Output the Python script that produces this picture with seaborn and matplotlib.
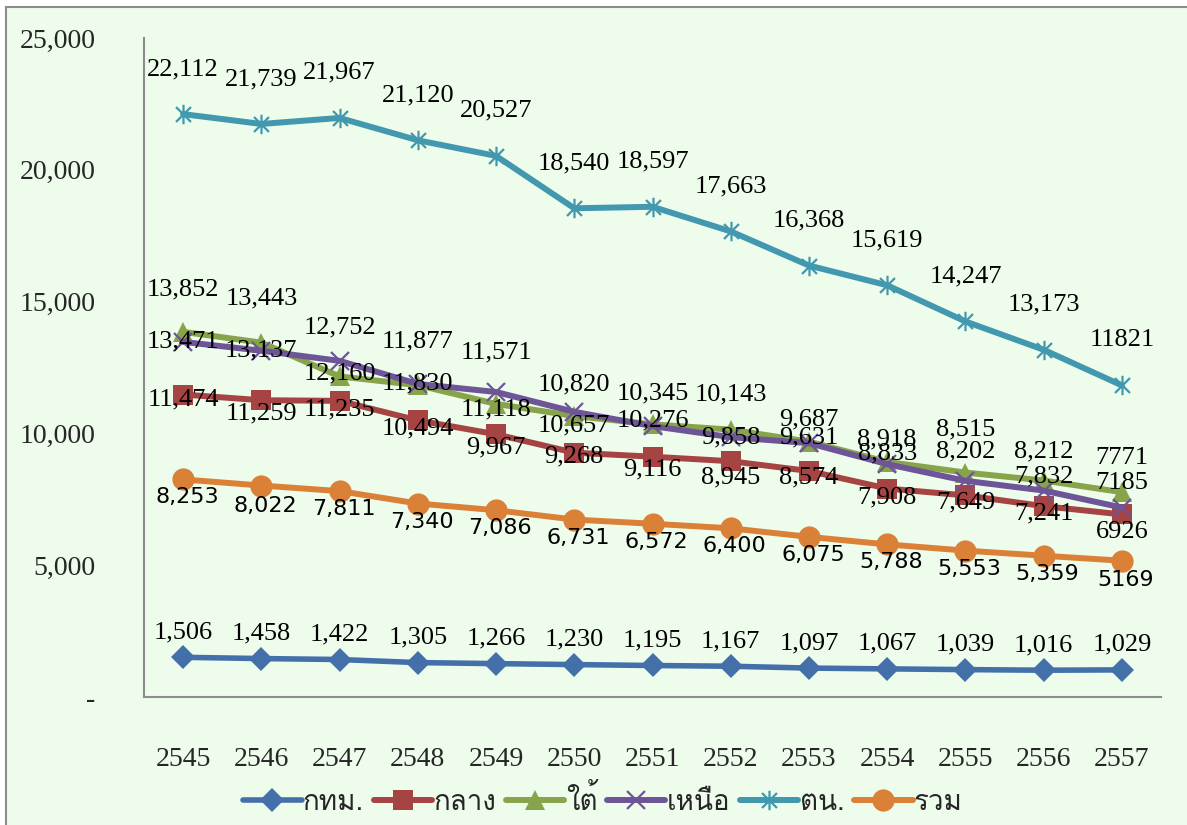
import matplotlib
matplotlib.use("Agg")
import matplotlib.pyplot as plt
import seaborn as sns
import pandas as pd
from matplotlib import font_manager
from matplotlib.ft2font import FT2Font
from matplotlib.path import Path
from matplotlib.patches import Rectangle

# ---------------- data ----------------
years = ["2545", "2546", "2547", "2548", "2549", "2550", "2551",
         "2552", "2553", "2554", "2555", "2556", "2557"]
bkk = [1506, 1458, 1422, 1305, 1266, 1230, 1195, 1167, 1097, 1067, 1039, 1016, 1029]
central = [11474, 11259, 11235, 10494, 9967, 9268, 9116, 8945, 8574, 7908, 7649, 7241, 6926]
south = [13852, 13443, 12160, 11830, 11118, 10657, 10345, 10143, 9687, 8918, 8515, 8212, 7771]
north = [13471, 13137, 12752, 11877, 11571, 10820, 10276, 9858, 9631, 8833, 8202, 7832, 7185]
northeast = [22112, 21739, 21967, 21120, 20527, 18540, 18597, 17663, 16368, 15619, 14247, 13173, 11821]
total = [8253, 8022, 7811, 7340, 7086, 6731, 6572, 6400, 6075, 5788, 5553, 5359, 5169]
series_names = ["กทม.", "กลาง", "ใต้", "เหนือ", "ตน.", "รวม"]
ytick_vals = [0, 5000, 10000, 15000, 20000, 25000]
ytick_labels = ["-", "5,000", "10,000", "15,000", "20,000", "25,000"]

def fmt(v, last):
    # last points in the source are printed without thousands separator
    return str(v) if last else f"{v:,}"

label_plain_last = {"กทม.": False, "กลาง": True, "ใต้": True, "เหนือ": True, "ตน.": True, "รวม": True}

# ---------------- style / layout ----------------
sns.set_theme(style="white")

thai_font = None
preferred = []
for f in font_manager.fontManager.ttflist:
    try:
        cm = FT2Font(f.fname).get_charmap()
    except Exception:
        continue
    if 0x0E01 in cm and 0x0E43 in cm and 0x0E49 in cm:
        preferred.append(f.name)
for cand in preferred:
    thai_font = cand
    break
serif = "Liberation Serif"
plt.rcParams["font.family"] = [serif, "DejaVu Sans"]

colors = {"กทม.": "#4470AA", "กลาง": "#A64443", "ใต้": "#87A44B",
          "เหนือ": "#6E5597", "ตน.": "#4198AF", "รวม": "#DB8137"}

star = Path([(-1, -1), (1, 1), (-1, 1), (1, -1), (0, -1.3), (0, 1.3)],
            [Path.MOVETO, Path.LINETO, Path.MOVETO, Path.LINETO, Path.MOVETO, Path.LINETO])

styles = {
    "กทม.": dict(marker="D", markersize=12, lw=4.0),
    "กลาง": dict(marker="s", markersize=14, lw=4.3),
    "ใต้": dict(marker="^", markersize=14, lw=4.3),
    "เหนือ": dict(marker="x", markersize=13, lw=4.3, mew=1.6),
    "ตน.": dict(marker=star, markersize=14, lw=4.3, mew=1.6),
    "รวม": dict(marker="o", markersize=16, lw=4.3),
}

# label vertical offsets in pixels (positive = above), per point
dy = {
    "กทม.": [25] * 13,
    "กลาง": [-5, -13, -9, -8, -13, -4, -13, -16, -6, -9, -7, -7, -18],
    "ใต้": [42, 44, 3, 2, -6, -9, 31, 35, 22, 22, 43, 29, 34],
    "เหนือ": [0, 0, 33, 42, 40, 27, 6, 0, 6, 11, 29, 14, 25],
    "ตน.": [45] * 13,
    "รวม": [-18, -20, -18, -18, -18, -18, -18, -18, -18, -18, -18, -18, -19],
}

values = {"กทม.": bkk, "กลาง": central, "ใต้": south,
          "เหนือ": north, "ตน.": northeast, "รวม": total}

bg = "#EEFCEC"
fig = plt.figure(figsize=(11.87, 8.25), dpi=100, facecolor="white")
fig.patches.append(Rectangle((6 / 1187, -0.01), 1.02, 1 - 7 / 825 + 0.01,
                             transform=fig.transFigure, facecolor=bg,
                             edgecolor="#8C8C8C", lw=1.5, zorder=-10))
ax = fig.add_axes([144 / 1187, 1 - 697 / 825, (1161 - 144) / 1187, (697 - 38) / 825])
ax.set_facecolor("none")

x = list(range(len(years)))
for name in series_names:
    st = styles[name]
    df = pd.DataFrame({"x": x, "y": values[name]})
    kw = dict(marker=st["marker"], markersize=st["markersize"], linewidth=st["lw"],
              color=colors[name], label=name)
    if "mew" in st:
        kw.update(markeredgewidth=st["mew"], markeredgecolor=colors[name])
    else:
        kw.update(markeredgewidth=0)
    sns.lineplot(data=df, x="x", y="y", ax=ax, **kw)

for name in series_names:
    vals = values[name]
    for i, v in enumerate(vals):
        last = (i == len(vals) - 1) and label_plain_last[name]
        txt = fmt(v, last)
        if name == "รวม":
            fp = dict(family="DejaVu Sans", fontsize=16)
        else:
            fp = dict(family=serif, fontsize=19)
        ax.annotate(txt, (i, v), xytext=(4 if name == "รวม" else 0, dy[name][i]),
                    textcoords="offset pixels", ha="center", va="center",
                    color="black", **fp)

ax.set_xlim(-0.5, len(years) - 0.5)
ax.set_ylim(0, 25000)
ax.set_xticks(x)
ax.set_xticklabels(years, fontsize=20, family=serif)
ax.set_yticks(ytick_vals)
ax.set_yticklabels(ytick_labels, fontsize=20, family=serif)
ax.tick_params(axis="x", length=0, pad=36)
ax.tick_params(axis="y", length=0, pad=35)
ax.set_xlabel("")
ax.set_ylabel("")
for s in ["top", "right"]:
    ax.spines[s].set_visible(False)
for s in ["left", "bottom"]:
    ax.spines[s].set_color("#8C8C8C")
    ax.spines[s].set_linewidth(1.5)

handles, labels = ax.get_legend_handles_labels()
if ax.get_legend() is not None:
    ax.get_legend().remove()
leg_font = [thai_font, "DejaVu Sans"] if thai_font else ["DejaVu Sans"]
leg = fig.legend(handles, labels, loc="center", bbox_to_anchor=(0.508, 1 - 800 / 825),
                 ncol=6, frameon=False, handlelength=2.1, handletextpad=0.05,
                 columnspacing=0.35, prop=dict(family=leg_font, size=20))

fig.savefig("out.png", dpi=100, facecolor=fig.get_facecolor())
